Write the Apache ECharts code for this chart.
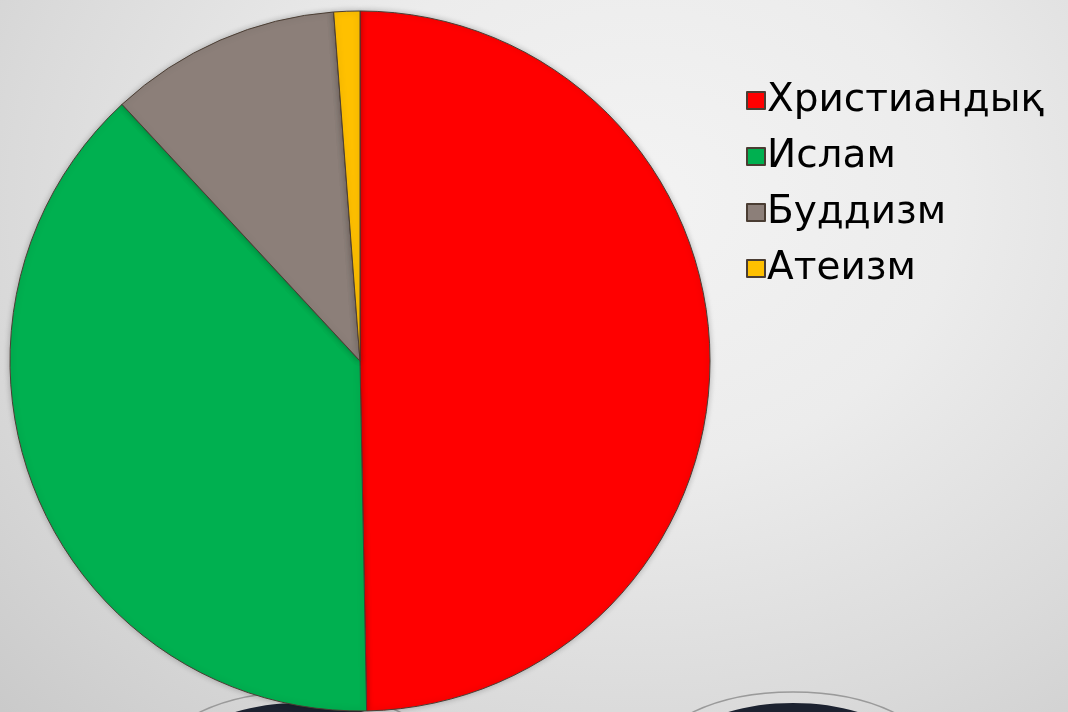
<!DOCTYPE html>
<html>
<head>
<meta charset="utf-8">
<script src="https://cdn.jsdelivr.net/npm/echarts@6/dist/echarts.min.js"></script>
<style>
html,body{margin:0;padding:0;width:1068px;height:712px;overflow:hidden;
background: radial-gradient(ellipse 900px 750px at 640px 200px, #f3f3f3 0%, #ececec 35%, #dadada 70%, #c9c9c9 100%);}
#chart{width:1068px;height:712px;}
</style>
</head>
<body>
<div id="chart"></div>
<script>
const categories = ['Христиандық', 'Ислам', 'Буддизм', 'Атеизм'];
const values = [49.7, 38.4, 10.7, 1.2];
const colors = ['#ff0000', '#00b050', '#8c7f79', '#ffc000'];

const chart = echarts.init(document.getElementById('chart'), null, {renderer: 'canvas'});
chart.setOption({
  backgroundColor: 'transparent',
  animation: false,
  color: colors,
  graphic: {
    elements: [
      {type: 'ellipse', z: 0, shape: {cx: 300, cy: 760, rx: 141, ry: 68}, style: {fill: 'none', stroke: '#9a9a9a', lineWidth: 1.5}},
      {type: 'ellipse', z: 0, shape: {cx: 300, cy: 760, rx: 120, ry: 57}, style: {fill: '#1c2230'}},
      {type: 'ellipse', z: 0, shape: {cx: 793, cy: 760, rx: 141, ry: 68}, style: {fill: 'none', stroke: '#9a9a9a', lineWidth: 1.5}},
      {type: 'ellipse', z: 0, shape: {cx: 793, cy: 760, rx: 120, ry: 57}, style: {fill: '#1c2230'}}
    ]
  },
  legend: {
    orient: 'vertical',
    left: 741,
    top: 76,
    itemWidth: 18,
    itemHeight: 17,
    itemGap: 17,
    icon: 'rect',
    selectedMode: false,
    textStyle: {fontFamily: 'DejaVu Sans', fontSize: 39, color: '#000', padding: [0, 0, 0, -3]},
    data: categories
  },
  series: [{
    type: 'pie',
    center: [360, 361],
    radius: [0, 350],
    startAngle: 90,
    clockwise: true,
    z: 5,
    label: {show: false},
    labelLine: {show: false},
    emphasis: {disabled: true},
    itemStyle: {borderColor: '#4a3d33', borderWidth: 1, shadowBlur: 6, shadowColor: 'rgba(0,0,0,0.25)'},
    data: categories.map((c, i) => ({name: c, value: values[i]}))
  }]
});
</script>
</body>
</html>
